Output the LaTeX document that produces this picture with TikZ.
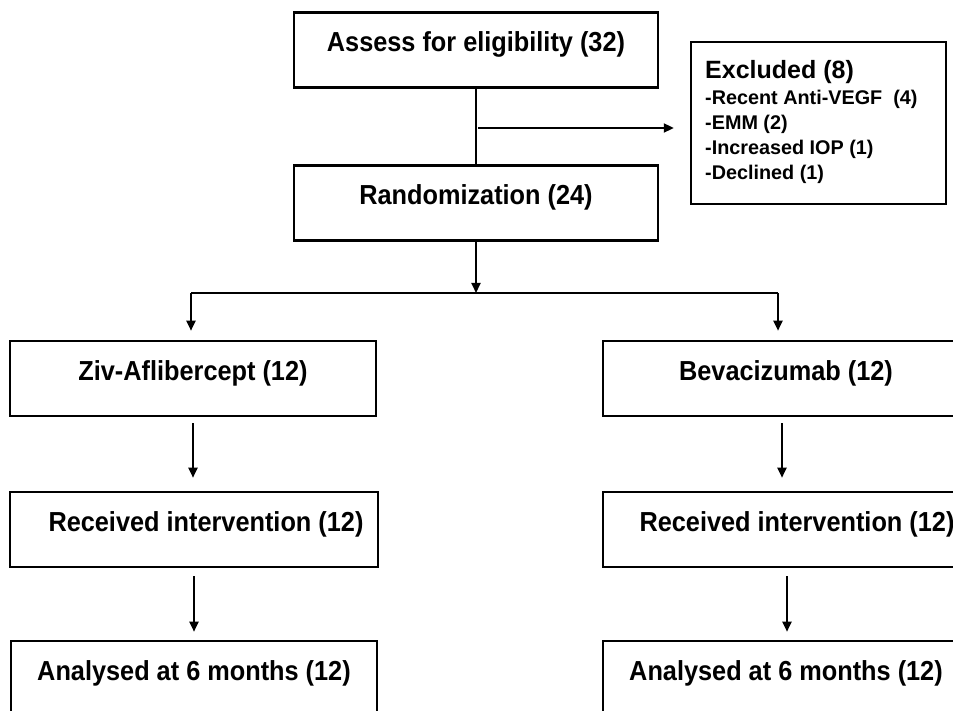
\documentclass[tikz,border=0pt]{standalone}
\usepackage{fontspec}
\setmainfont{Liberation Sans}
\newfontfamily\condfont{Liberation Sans}[FakeStretch=0.92]
\usetikzlibrary{arrows.meta}
\tikzset{
  box/.style={draw, rectangle, line width=2.6pt, inner xsep=0pt, inner ysep=0pt,
    minimum width=366pt, text height=39pt, text depth=36pt,
    font=\condfont\bfseries\fontsize{27.5}{32}\selectfont},
  tallbox/.style={box, text depth=61pt},
  conn/.style={line width=2pt},
  arr/.style={conn, -{Triangle[length=10pt,width=9pt]}},
  extitle/.style={anchor=base west, inner sep=0pt, font=\bfseries\fontsize{25}{28}\selectfont},
  exitem/.style={anchor=base west, inner sep=0pt, font=\bfseries\fontsize{19.8}{25}\selectfont},
}
\begin{document}
\begin{tikzpicture}[x=1pt,y=-1pt]
\path[use as bounding box] (0,0) rectangle (953,711);
\fill[white] (0,0) rectangle (953,711);
\clip (0,0) rectangle (953,711);

% boxes
\node[box, minimum width=364pt] (assess) at (476,50) {Assess for eligibility (32)};
\node[box, minimum width=364pt] (rand) at (476,203) {Randomization (24)};
\node[draw, rectangle, line width=2.4pt, inner sep=0pt, minimum width=255pt, minimum height=162pt] (excl) at (818.5,123) {};
\node[extitle] (ex0) at (705,79) {Excluded (8)};
\node[exitem] (ex1) at (705,105) {-Recent Anti-VEGF\ \ (4)};
\node[exitem] (ex2) at (705,130) {-EMM (2)};
\node[exitem] (ex3) at (705,155) {-Increased IOP (1)};
\node[exitem] (ex4) at (705,180) {-Declined (1)};

\node[box] (ziv) at (193,378.5) {Ziv-Aflibercept (12)};
\node[box] (bev) at (786,378.5) {Bevacizumab (12)};
\node[box, minimum width=368pt] (recL) at (194,529.5) {\hspace*{24pt}Received intervention (12)};
\node[box] (recR) at (786,529.5) {\hspace*{22pt}Received intervention (12)};
\node[tallbox] (anaL) at (194,691) {Analysed at 6 months (12)};
\node[tallbox] (anaR) at (786,691) {Analysed at 6 months (12)};

% connectors
\draw[conn] (assess.south) -- (rand.north);
\coordinate (split) at (476,128);
\draw[arr, shorten <=2pt, shorten >=16pt] (split) -- (split -| excl.west);
\coordinate (br) at (476,293);
\coordinate (brL) at (191,293);
\coordinate (brR) at (778,293);
\draw[arr] (rand.south) -- (br);
\draw[conn] (brL) -- (brR);
\draw[arr, shorten >=9pt] (brL) -- (brL |- ziv.north);
\draw[arr, shorten >=9pt] (brR) -- (brR |- bev.north);
\draw[arr, shorten <=6pt, shorten >=13pt] (ziv.south) -- (ziv.south |- recL.north);
\draw[arr, shorten <=6pt, shorten >=13pt] ([xshift=-4pt]bev.south) -- ([xshift=-4pt]bev.south |- recR.north);
\draw[arr, shorten <=8pt, shorten >=8pt] (recL.south) -- (recL.south |- anaL.north);
\draw[arr, shorten <=8pt, shorten >=8pt] ([xshift=1pt]recR.south) -- ([xshift=1pt]recR.south |- anaR.north);
\end{tikzpicture}
\end{document}
